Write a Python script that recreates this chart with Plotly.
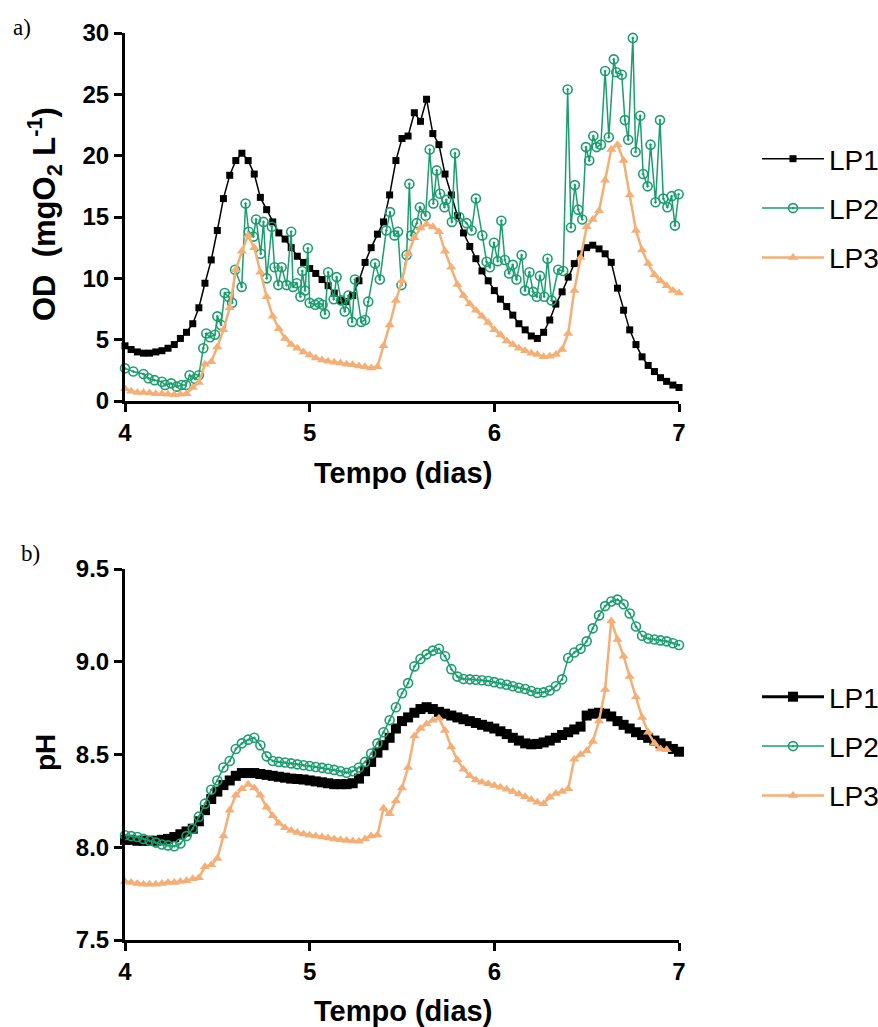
import plotly.graph_objects as go

# ---------------- data ----------------
# regular sampling times (days) shared by LP1/LP3 and all pH series
t_grid = [4.000, 4.033, 4.067, 4.100, 4.133, 4.167, 4.200, 4.233, 4.267, 4.300,
          4.333, 4.367, 4.400, 4.433, 4.467, 4.500, 4.533, 4.567, 4.600, 4.633,
          4.667, 4.700, 4.733, 4.767, 4.800, 4.833, 4.867, 4.900, 4.933, 4.967,
          5.000, 5.033, 5.067, 5.100, 5.133, 5.167, 5.200, 5.233, 5.267, 5.300,
          5.333, 5.367, 5.400, 5.433, 5.467, 5.500, 5.533, 5.567, 5.600, 5.633,
          5.667, 5.700, 5.733, 5.767, 5.800, 5.833, 5.867, 5.900, 5.933, 5.967,
          6.000, 6.033, 6.067, 6.100, 6.133, 6.167, 6.200, 6.233, 6.267, 6.300,
          6.333, 6.367, 6.400, 6.433, 6.467, 6.500, 6.533, 6.567, 6.600, 6.633,
          6.667, 6.700, 6.733, 6.767, 6.800, 6.833, 6.867, 6.900, 6.933, 6.967,
          7.000]

od_lp1 = [4.5, 4.2, 4.0, 3.9, 3.9, 4.0, 4.1, 4.3, 4.6, 5.1,
          5.6, 6.3, 7.6, 9.6, 11.5, 13.9, 16.5, 18.4, 19.6, 20.2,
          19.6, 18.5, 16.6, 15.6, 14.6, 13.7, 13.2, 12.5, 11.8, 11.3,
          10.8, 10.4, 9.9, 9.4, 8.8, 8.2, 8.1, 8.6, 9.8, 11.3,
          12.5, 13.6, 14.6, 16.8, 19.6, 21.4, 21.6, 23.5, 22.8, 24.6,
          21.8, 20.9, 18.5, 16.8, 15.1, 13.7, 12.6, 11.6, 10.6, 9.8,
          9.0, 8.3, 7.7, 7.0, 6.3, 5.8, 5.3, 5.1, 5.6, 6.6,
          7.9, 8.9, 10.1, 11.2, 12.0, 12.5, 12.7, 12.4, 12.0, 11.3,
          9.2, 7.4, 5.8, 4.6, 3.6, 2.9, 2.4, 1.9, 1.6, 1.3,
          1.1]

od_lp2_t = [4.000, 4.045, 4.100, 4.127, 4.160, 4.200, 4.217, 4.250, 4.280, 4.307,
            4.330, 4.350, 4.380, 4.400, 4.424, 4.440, 4.460, 4.487, 4.500, 4.520,
            4.540, 4.560, 4.580, 4.596, 4.632, 4.653, 4.670, 4.695, 4.710, 4.735,
            4.750, 4.767, 4.795, 4.810, 4.830, 4.848, 4.875, 4.900, 4.910, 4.930,
            4.950, 4.960, 4.975, 4.990, 5.000, 5.030, 5.050, 5.070, 5.083, 5.100,
            5.130, 5.146, 5.170, 5.190, 5.210, 5.230, 5.245, 5.280, 5.300, 5.317,
            5.354, 5.380, 5.415, 5.435, 5.460, 5.478, 5.497, 5.525, 5.540, 5.550,
            5.580, 5.597, 5.628, 5.650, 5.670, 5.688, 5.706, 5.730, 5.740, 5.770,
            5.787, 5.810, 5.850, 5.877, 5.900, 5.935, 5.958, 5.976, 5.998, 6.018,
            6.038, 6.057, 6.080, 6.100, 6.120, 6.148, 6.166, 6.190, 6.210, 6.230,
            6.247, 6.270, 6.288, 6.310, 6.346, 6.373, 6.397, 6.415, 6.436, 6.454,
            6.476, 6.496, 6.514, 6.536, 6.554, 6.577, 6.600, 6.620, 6.647, 6.660,
            6.690, 6.707, 6.725, 6.750, 6.765, 6.790, 6.806, 6.830, 6.846, 6.873,
            6.897, 6.915, 6.937, 6.960, 6.978, 6.998]
od_lp2 = [2.66, 2.4, 2.2, 1.85, 1.7, 1.57, 1.3, 1.44, 1.17, 1.3,
          1.3, 2.1, 1.8, 2.1, 4.3, 5.5, 5.2, 5.4, 6.9, 6.2,
          8.8, 8.5, 8.0, 10.7, 9.3, 16.1, 13.8, 13.4, 14.8, 12.0,
          14.6, 10.0, 14.2, 10.9, 9.45, 10.9, 9.45, 13.8, 9.3, 9.6,
          8.5, 10.6, 9.0, 12.45, 8.0, 7.85, 8.0, 7.85, 7.1, 10.5,
          8.3, 10.1, 8.2, 7.3, 8.6, 6.45, 9.9, 6.45, 6.6, 8.1,
          11.2, 9.9, 13.9, 15.4, 13.5, 13.8, 9.45, 11.9, 17.7, 13.5,
          14.5, 15.8, 15.1, 20.5, 16.1, 18.8, 16.9, 15.8, 16.4, 14.6,
          20.2, 15.0, 14.5, 13.9, 16.5, 13.5, 11.35, 10.9, 12.9, 11.4,
          14.7, 11.5, 10.4, 11.1, 9.9, 11.9, 9.0, 10.5, 8.9, 8.5,
          10.2, 8.5, 11.6, 8.2, 10.7, 10.6, 25.4, 14.15, 17.6, 15.6,
          14.8, 20.7, 19.6, 21.6, 20.7, 20.9, 26.9, 21.5, 27.85, 26.8,
          26.6, 22.9, 21.3, 29.6, 20.3, 23.25, 18.5, 17.5, 20.9, 16.2,
          22.9, 16.5, 15.8, 16.7, 14.3, 16.85]

od_lp3 = [1.0, 0.8, 0.7, 0.7, 0.65, 0.6, 0.6, 0.55, 0.5, 0.55,
          0.6, 1.1, 1.5, 3.0, 3.2, 4.4, 5.8, 7.6, 10.7, 12.2,
          13.5, 12.5, 10.5, 8.5, 6.9, 5.9, 5.1, 4.6, 4.3, 4.0,
          3.75, 3.5, 3.35, 3.25, 3.15, 3.1, 3.0, 2.95, 2.85, 2.8,
          2.7, 2.8, 4.5, 6.2, 8.2, 9.8, 12.0, 13.3, 14.1, 14.4,
          14.2, 13.8, 12.2, 10.9, 9.5, 8.6, 7.9, 7.4, 6.9, 6.4,
          5.8, 5.4, 4.9, 4.6, 4.3, 4.1, 3.9, 3.8, 3.6, 3.65,
          3.8, 4.2, 5.5, 9.0, 11.7, 14.2, 14.8, 15.5, 18.0, 20.5,
          20.9, 19.6, 16.8, 13.9, 12.3, 11.2, 10.3, 9.8, 9.4, 9.0,
          8.8]

ph_lp1 = [8.04, 8.04, 8.035, 8.035, 8.035, 8.035, 8.04, 8.045, 8.055, 8.07,
          8.085, 8.10, 8.14, 8.20, 8.26, 8.30, 8.335, 8.36, 8.385, 8.40,
          8.40, 8.40, 8.395, 8.39, 8.385, 8.38, 8.375, 8.37, 8.368, 8.365,
          8.36, 8.355, 8.35, 8.345, 8.34, 8.34, 8.34, 8.345, 8.37, 8.41,
          8.46, 8.51, 8.55, 8.59, 8.64, 8.68, 8.70, 8.725, 8.745, 8.755,
          8.745, 8.73, 8.72, 8.71, 8.70, 8.69, 8.68, 8.67, 8.66, 8.65,
          8.64, 8.625, 8.61, 8.59, 8.575, 8.56, 8.555, 8.557, 8.565, 8.575,
          8.59, 8.605, 8.62, 8.635, 8.65, 8.71, 8.72, 8.725, 8.72, 8.705,
          8.68, 8.66, 8.64, 8.62, 8.605, 8.59, 8.575, 8.56, 8.545, 8.53,
          8.515]

ph_lp2 = [8.065, 8.06, 8.055, 8.045, 8.035, 8.025, 8.015, 8.01, 8.005, 8.02,
          8.06, 8.10, 8.165, 8.235, 8.31, 8.36, 8.43, 8.465, 8.53, 8.56,
          8.58, 8.59, 8.55, 8.49, 8.465, 8.46, 8.457, 8.452, 8.447, 8.442,
          8.438, 8.433, 8.428, 8.423, 8.417, 8.41, 8.402, 8.41, 8.43, 8.46,
          8.505, 8.56, 8.62, 8.685, 8.755, 8.83, 8.885, 8.975, 9.015, 9.04,
          9.06, 9.07, 9.03, 8.96, 8.92, 8.907, 8.905, 8.903, 8.90, 8.896,
          8.89, 8.883, 8.876, 8.868, 8.86, 8.853, 8.842, 8.832, 8.835, 8.845,
          8.868, 8.905, 9.02, 9.05, 9.07, 9.11, 9.18, 9.25, 9.30, 9.325,
          9.335, 9.31, 9.26, 9.19, 9.14, 9.125, 9.12, 9.115, 9.11, 9.10,
          9.09]

ph_lp3 = [7.815, 7.81, 7.805, 7.80, 7.80, 7.80, 7.805, 7.81, 7.81, 7.815,
          7.82, 7.83, 7.835, 7.895, 7.905, 7.94, 8.06, 8.20, 8.28, 8.315,
          8.34, 8.32, 8.28, 8.215, 8.17, 8.13, 8.105, 8.09, 8.08, 8.072,
          8.065, 8.06, 8.055, 8.05, 8.045, 8.04, 8.036, 8.034, 8.032, 8.045,
          8.06, 8.066, 8.21, 8.18, 8.25, 8.32, 8.43, 8.60, 8.64, 8.665,
          8.685, 8.695, 8.63, 8.54, 8.47, 8.42, 8.385, 8.362, 8.35, 8.342,
          8.333, 8.323, 8.312, 8.30, 8.287, 8.272, 8.257, 8.242, 8.235, 8.27,
          8.29, 8.30, 8.315, 8.475, 8.50, 8.52, 8.57, 8.68, 8.85, 9.22,
          9.12, 9.03, 8.92, 8.81, 8.70, 8.62, 8.56, 8.53, 8.525]

series_names = ["LP1", "LP2", "LP3"]
x_ticks = [4, 5, 6, 7]
od_ticks = [0, 5, 10, 15, 20, 25, 30]
ph_ticks = [7.5, 8.0, 8.5, 9.0, 9.5]
ph_ticktext = ["7.5", "8.0", "8.5", "9.0", "9.5"]

# ---------------- style ----------------
BLACK = "#000000"
GREEN = "#1B9E6E"
ORANGE = "#F3AF76"
SANS = "Liberation Sans, Arial, sans-serif"
SERIF = "Liberation Serif, Times New Roman, serif"

fig = go.Figure()

def add(x, y, name, color, symbol, msize, lw, xa, ya, legend, mline=None):
    marker = dict(symbol=symbol, size=msize, color=color)
    if mline:
        marker["line"] = dict(color=color, width=mline)
    fig.add_trace(go.Scatter(
        x=x, y=y, name=name, mode="lines+markers",
        line=dict(color=color, width=lw), marker=marker,
        xaxis=xa, yaxis=ya, legend=legend, legendgroup=legend + name,
        cliponaxis=False))

# top chart
add(t_grid, od_lp1, series_names[0], BLACK, "square", 7, 1.5, "x", "y", "legend")
add(od_lp2_t, od_lp2, series_names[1], GREEN, "circle-open-dot", 9, 1.5, "x", "y", "legend", 1.6)
add(t_grid[:len(od_lp3)], od_lp3, series_names[2], ORANGE, "triangle-up", 9, 2.5, "x", "y", "legend")
# bottom chart
add(t_grid, ph_lp1, series_names[0], BLACK, "square", 10, 3, "x2", "y2", "legend2")
add(t_grid, ph_lp2, series_names[1], GREEN, "circle-open-dot", 9, 1.5, "x2", "y2", "legend2", 1.6)
add(t_grid[:len(ph_lp3)], ph_lp3, series_names[2], ORANGE, "triangle-up", 9, 2.5, "x2", "y2", "legend2")

W, H = 878, 1027
def px_x(p):
    return p / W
def px_y(p):
    return 1 - p / H

axis_common = dict(
    showline=True, linewidth=3, linecolor="black", mirror=False,
    ticks="outside", ticklen=8, tickwidth=3, tickcolor="black",
    showgrid=False, zeroline=False, fixedrange=True, automargin=False,
    tickfont=dict(family=SANS, size=24, color="black", weight="bold"),
)

xdom = [px_x(125), px_x(679)]
legend_common = dict(xanchor="left", yanchor="top",
                     font=dict(family=SANS, size=28, color="black"),
                     tracegroupgap=10, itemwidth=62, bgcolor="rgba(0,0,0,0)")
fig.update_layout(
    template="none",
    width=W, height=H,
    margin=dict(l=0, r=0, t=0, b=0, pad=0, autoexpand=False),
    paper_bgcolor="white", plot_bgcolor="white",
    xaxis=dict(domain=xdom, range=[4, 7], tickvals=x_ticks, anchor="y", **axis_common),
    yaxis=dict(domain=[px_y(401), px_y(33)], range=[0, 30], tickvals=od_ticks, anchor="x", **axis_common),
    xaxis2=dict(domain=xdom, range=[4, 7], tickvals=x_ticks, anchor="y2", **axis_common),
    yaxis2=dict(domain=[px_y(940), px_y(569)], range=[7.5, 9.5], tickvals=ph_ticks,
                ticktext=ph_ticktext, anchor="x2", **axis_common),
    legend=dict(x=px_x(757), y=px_y(134), **legend_common),
    legend2=dict(x=px_x(757), y=px_y(672), **legend_common),
    showlegend=True,
)

title_font = dict(family=SANS, size=29, color="black", weight="bold")
annots = [
    dict(text="Tempo (dias)", x=px_x(403), y=px_y(473), font=title_font),
    dict(text="Tempo (dias)", x=px_x(403), y=px_y(1011), font=title_font),
    dict(text="OD  (mgO<sub>2</sub> L<sup>-1</sup>)", x=px_x(44), y=px_y(214),
         font=dict(family=SANS, size=31, color="black", weight="bold"), textangle=-90),
    dict(text="pH", x=px_x(45), y=px_y(753),
         font=dict(family=SANS, size=28, color="black", weight="bold"), textangle=-90),
    dict(text="a)", x=px_x(22), y=px_y(27), font=dict(family=SERIF, size=23, color="black")),
    dict(text="b)", x=px_x(30), y=px_y(553), font=dict(family=SERIF, size=23, color="black")),
]
for a in annots:
    fig.add_annotation(xref="paper", yref="paper", showarrow=False,
                       xanchor="center", yanchor="middle", **a)

fig.write_html("out.html")
